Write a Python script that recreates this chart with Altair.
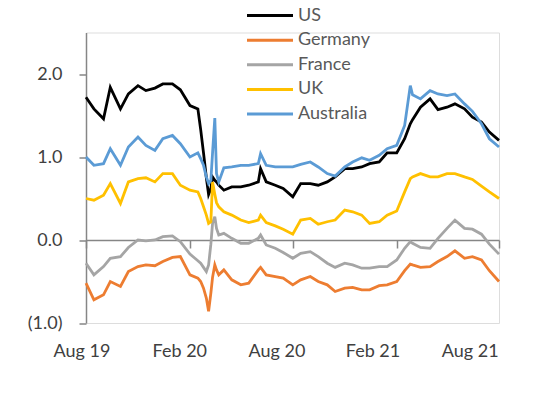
import altair as alt
import pandas as pd

dates = [
    "2019-08-01", "2019-08-15", "2019-09-01", "2019-09-13", "2019-10-01", "2019-10-15",
    "2019-11-01", "2019-11-15", "2019-12-01", "2019-12-15", "2020-01-01", "2020-01-15",
    "2020-02-01", "2020-02-15", "2020-02-20", "2020-02-25", "2020-03-01", "2020-03-05",
    "2020-03-09", "2020-03-12", "2020-03-16", "2020-03-19", "2020-03-23", "2020-04-01",
    "2020-04-15", "2020-05-01", "2020-05-15", "2020-06-01", "2020-06-05", "2020-06-15",
    "2020-07-01", "2020-07-15", "2020-08-01", "2020-08-15", "2020-09-01", "2020-09-15",
    "2020-10-01", "2020-10-15", "2020-11-01", "2020-11-15", "2020-12-01", "2020-12-15",
    "2021-01-01", "2021-01-15", "2021-02-01", "2021-02-15", "2021-02-25", "2021-03-01",
    "2021-03-15", "2021-04-01", "2021-04-15", "2021-05-01", "2021-05-15", "2021-06-01",
    "2021-06-15", "2021-07-01", "2021-07-15", "2021-08-01",
]

us = [
    1.72, 1.58, 1.46, 1.84, 1.58, 1.76, 1.86, 1.80, 1.83, 1.88, 1.88, 1.81,
    1.62, 1.58, 1.33, 1.05, 0.75, 0.55, 0.62, 0.76, 0.72, 0.70, 0.66, 0.60,
    0.64, 0.64, 0.66, 0.70, 0.86, 0.70, 0.66, 0.62, 0.52, 0.68, 0.68, 0.66,
    0.70, 0.76, 0.86, 0.86, 0.88, 0.92, 0.94, 1.05, 1.05, 1.22, 1.40, 1.45,
    1.60, 1.70, 1.57, 1.60, 1.64, 1.58, 1.48, 1.42, 1.30, 1.20,
]
germany = [
    -0.52, -0.72, -0.66, -0.50, -0.56, -0.38, -0.32, -0.30, -0.31, -0.26, -0.21, -0.20,
    -0.42, -0.46, -0.50, -0.58, -0.70, -0.86, -0.64, -0.45, -0.30, -0.36, -0.42, -0.36,
    -0.48, -0.54, -0.52, -0.36, -0.33, -0.42, -0.44, -0.46, -0.54, -0.48, -0.44, -0.50,
    -0.54, -0.62, -0.58, -0.57, -0.60, -0.60, -0.55, -0.54, -0.50, -0.37, -0.29, -0.30,
    -0.33, -0.32, -0.26, -0.20, -0.13, -0.22, -0.20, -0.24, -0.37, -0.50,
]
france = [
    -0.28, -0.42, -0.32, -0.22, -0.20, -0.09, 0.00, -0.01, 0.00, 0.04, 0.05, -0.02,
    -0.17, -0.25, -0.28, -0.33, -0.38, -0.30, -0.05, 0.20, 0.28, 0.14, 0.06, 0.08,
    0.02, -0.04, -0.04, 0.02, 0.06, -0.06, -0.10, -0.15, -0.22, -0.16, -0.14, -0.20,
    -0.28, -0.33, -0.28, -0.30, -0.34, -0.34, -0.32, -0.32, -0.24, -0.10, -0.02, -0.04,
    -0.09, -0.10, 0.02, 0.14, 0.24, 0.14, 0.13, 0.07, -0.05, -0.17,
]
uk = [
    0.50, 0.48, 0.54, 0.68, 0.44, 0.70, 0.74, 0.75, 0.70, 0.80, 0.80, 0.66,
    0.60, 0.58, 0.50, 0.40, 0.30, 0.20, 0.22, 0.70, 0.55, 0.45, 0.40, 0.34,
    0.30, 0.24, 0.21, 0.24, 0.30, 0.21, 0.17, 0.13, 0.07, 0.24, 0.26, 0.19,
    0.22, 0.24, 0.36, 0.34, 0.30, 0.20, 0.22, 0.30, 0.35, 0.58, 0.74, 0.76,
    0.80, 0.76, 0.76, 0.80, 0.80, 0.76, 0.73, 0.65, 0.58, 0.50,
]
australia = [
    1.00, 0.90, 0.92, 1.10, 0.90, 1.12, 1.24, 1.14, 1.08, 1.22, 1.26, 1.16,
    1.00, 1.05, 0.98, 0.90, 0.76, 0.68, 0.72, 1.05, 1.47, 0.80, 0.70, 0.87,
    0.88, 0.90, 0.90, 0.92, 1.04, 0.90, 0.88, 0.88, 0.88, 0.91, 0.94, 0.88,
    0.80, 0.77, 0.88, 0.94, 0.99, 0.96, 1.02, 1.10, 1.14, 1.38, 1.86, 1.75,
    1.70, 1.80, 1.76, 1.74, 1.76, 1.64, 1.55, 1.40, 1.22, 1.12,
]

series_names = ["US", "Germany", "France", "UK", "Australia"]
series_colors = ["#000000", "#ED7D31", "#A5A5A5", "#FFC000", "#5B9BD5"]
y_ticks = [-1, 0, 1, 2]
x_label_text = ["Aug 19", "Feb 20", "Aug 20", "Feb 21", "Aug 21"]
x_label_dates = ["2019-07-25", "2020-01-14", "2020-07-04", "2020-12-21", "2021-06-11"]

values = {"US": us, "Germany": germany, "France": france, "UK": uk, "Australia": australia}
rows = []
for name in series_names:
    for d, v in zip(dates, values[name]):
        rows.append({"date": d, "series": name, "value": v})
df = pd.DataFrame(rows)
labels_df = pd.DataFrame({"date": x_label_dates, "text": x_label_text})
legend_df = pd.DataFrame({"series": series_names})

FONT = "Lato"
W, H = 413, 290.5
AXIS_GRAY = "#868686"

x_domain = [alt.DateTime(year=2019, month=8, date=1, utc=True),
            alt.DateTime(year=2021, month=8, date=1, utc=True)]
x_tick_values = [alt.DateTime(year=y, month=m, date=1, utc=True)
                 for y, m in [(2019, 8), (2020, 2), (2020, 8), (2021, 2), (2021, 8)]]

x_enc = alt.X(
    "date:T",
    scale=alt.Scale(domain=x_domain),
    axis=alt.Axis(values=x_tick_values, labels=False, title=None, grid=False,
                  offset=-83, domainColor=AXIS_GRAY, tickColor=AXIS_GRAY,
                  tickSize=8, domainWidth=1.5, tickWidth=1.5),
)
y_enc = alt.Y(
    "value:Q",
    scale=alt.Scale(domain=[-1, 2.5], nice=False, zero=False),
    axis=alt.Axis(values=y_ticks, title=None, grid=False,
                  labelExpr="datum.value < 0 ? '(' + format(-datum.value, '.1f') + ')' : format(datum.value, '.1f')",
                  labelFont=FONT, labelFontSize=18, labelColor="#404040",
                  labelPadding=17, tickSize=7, domainColor=AXIS_GRAY,
                  tickColor=AXIS_GRAY, domainWidth=1.5, tickWidth=1.5),
)
color_scale = alt.Scale(domain=series_names, range=series_colors)
color_enc = alt.Color("series:N", scale=color_scale, legend=None)

line_layers = []
for name in series_names:
    layer = alt.Chart(df).transform_filter(
        alt.datum.series == name
    ).mark_line(strokeWidth=2.8).encode(x=x_enc, y=y_enc, color=color_enc)
    line_layers.append(layer)

label_layer = alt.Chart(labels_df).mark_text(
    font=FONT, fontSize=18, color="#404040", align="center", baseline="middle"
).encode(
    x=x_enc,
    y=alt.value(319.5),
    text="text:N",
)

main = alt.layer(*line_layers, label_layer)

legend_y = alt.Y("series:N", axis=None,
                 scale=alt.Scale(type="point", domain=series_names,
                                 range=[-17, 81.5], padding=0))
legend_lines = alt.Chart(legend_df).mark_rule(strokeWidth=3).encode(
    x=alt.value(161), x2=alt.value(207), y=legend_y, color=color_enc,
)
legend_text = alt.Chart(legend_df).mark_text(
    font=FONT, fontSize=18, color="#595959", align="left", baseline="middle"
).encode(
    x=alt.value(212), y=legend_y, text="series:N",
)
legend = alt.layer(legend_lines, legend_text)

chart = alt.layer(main, legend).resolve_scale(y="independent").properties(
    width=W, height=H,
    autosize=alt.AutoSizeParams(type="none"),
    padding={"left": 78, "top": 24.5, "right": 47, "bottom": 66},
).configure_view(strokeWidth=0).configure(background="white")

chart.save("out.html", embed_options={"renderer": "svg", "actions": False})
